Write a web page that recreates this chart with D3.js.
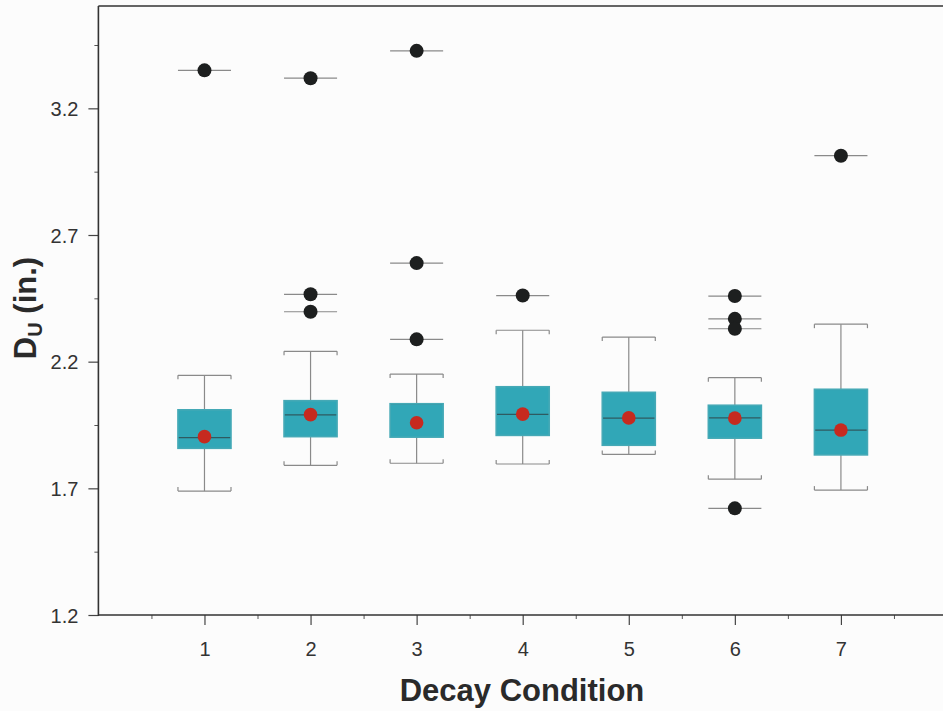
<!DOCTYPE html>
<html><head><meta charset="utf-8">
<script src="https://cdn.jsdelivr.net/npm/d3@7"></script>
<style>body{margin:0;background:#fcfcfc;}svg{display:block;font-family:"Liberation Sans",Arial,sans-serif;}</style>
</head><body><svg id="c" width="943" height="711"></svg>
<script>
const categories = [1, 2, 3, 4, 5, 6, 7];
const whiskerLow  = [1.689, 1.791, 1.799, 1.796, 1.834, 1.736, 1.693];
const q1          = [1.858, 1.904, 1.902, 1.909, 1.870, 1.898, 1.832];
const medians     = [1.900, 1.990, 2.034, 1.992, 1.977, 1.978, 1.930];
const q3          = [2.010, 2.046, 2.034, 2.101, 2.079, 2.028, 2.091];
const whiskerHigh = [2.146, 2.241, 2.151, 2.324, 2.297, 2.137, 2.348];
const means       = [1.904, 1.991, 1.959, 1.993, 1.978, 1.977, 1.930];
const outliers    = [[3.350], [3.319, 2.466, 2.397], [3.427, 2.589, 2.288], [2.461], [], [2.459, 2.369, 2.330, 1.621], [3.013]];
const yTicks = [1.2, 1.7, 2.2, 2.7, 3.2];
const yMinorTicks = [1.45, 1.95, 2.45, 2.95, 3.45];
const xMinorTicks = [0.5, 1.5, 2.5, 3.5, 4.5, 5.5, 6.5, 7.5];

const svg = d3.select("#c");
const x = d3.scaleLinear().domain([0, 8]).range([98.4, 947]);
const y = d3.scaleLinear().domain([1.2, 3.6]).range([615, 7]);
const bw = x(0.5) - x(0);

const data = categories.map((c, i) => ({c, lo: whiskerLow[i], q1: q1[i], med: medians[i], q3: q3[i], hi: whiskerHigh[i], mean: means[i], out: outliers[i]}));

const g = svg.append("g");
const wc = "#8a8a8a";
data.forEach(d => {
  const cx = x(d.c);
  g.append("line").attr("x1", cx).attr("x2", cx).attr("y1", y(d.hi)).attr("y2", y(d.lo)).attr("stroke", wc).attr("stroke-width", 1.2);
  [d.hi, d.lo].forEach(v => {
    g.append("line").attr("x1", cx - bw/2).attr("x2", cx + bw/2).attr("y1", y(v)).attr("y2", y(v)).attr("stroke", wc).attr("stroke-width", 1.2);
    const dv = v === d.hi ? 4 : -4;
    g.append("line").attr("x1", cx - bw/2).attr("x2", cx - bw/2).attr("y1", y(v)).attr("y2", y(v) + dv).attr("stroke", wc).attr("stroke-width", 1.2);
    g.append("line").attr("x1", cx + bw/2).attr("x2", cx + bw/2).attr("y1", y(v)).attr("y2", y(v) + dv).attr("stroke", wc).attr("stroke-width", 1.2);
  });
  g.append("rect").attr("x", cx - bw/2).attr("width", bw).attr("y", y(d.q3)).attr("height", y(d.q1) - y(d.q3)).attr("fill", "#31a7b7");
  g.append("line").attr("x1", cx - bw/2).attr("x2", cx + bw/2).attr("y1", y(d.med)).attr("y2", y(d.med)).attr("stroke", "#2f5a60").attr("stroke-width", 1.3);
  g.append("rect").attr("x", cx - bw/2).attr("width", bw).attr("y", y(d.q3)).attr("height", y(d.q1) - y(d.q3)).attr("fill", "none").attr("stroke", "#45a9b6").attr("stroke-width", 1.6);
  g.append("circle").attr("cx", cx).attr("cy", y(d.mean)).attr("r", 6.8).attr("fill", "#c62a1f");
  d.out.forEach(v => {
    g.append("line").attr("x1", cx - bw/2).attr("x2", cx + bw/2).attr("y1", y(v)).attr("y2", y(v)).attr("stroke", wc).attr("stroke-width", 1.2);
    g.append("circle").attr("cx", cx).attr("cy", y(v)).attr("r", 7).attr("fill", "#1d1f1f");
  });
});

const yAxis = d3.axisLeft(y).tickValues(yTicks).tickFormat(d3.format(".1f")).tickSize(10).tickPadding(10);
const ya = svg.append("g").attr("transform", `translate(${x(0)},0)`).call(yAxis);
ya.select(".domain").remove();
ya.selectAll(".tick line").attr("stroke", "#444").attr("stroke-width", 1.2);
ya.selectAll("text").attr("font-size", 20).attr("fill", "#333").attr("dy", "0.35em");
const yMinor = svg.append("g").attr("transform", `translate(${x(0)},0)`).call(d3.axisLeft(y).tickValues(yMinorTicks).tickSize(4).tickFormat(""));
yMinor.select(".domain").remove();
yMinor.selectAll(".tick line").attr("stroke", "#555");

const xAxis = d3.axisBottom(x).tickValues(categories).tickSize(10).tickPadding(17);
const xa = svg.append("g").attr("transform", `translate(0,${y(1.2)})`).call(xAxis);
xa.select(".domain").remove();
xa.selectAll(".tick line").attr("stroke", "#444").attr("stroke-width", 1.2);
xa.selectAll("text").attr("font-size", 20).attr("fill", "#333");
const xMinor = svg.append("g").attr("transform", `translate(0,${y(1.2)})`).call(d3.axisBottom(x).tickValues(xMinorTicks).tickSize(4).tickFormat(""));
xMinor.select(".domain").remove();
xMinor.selectAll(".tick line").attr("stroke", "#555");

svg.append("line").attr("x1", x(0)).attr("x2", x(0)).attr("y1", y(3.6) - 1).attr("y2", y(1.2) + 1).attr("stroke", "#333").attr("stroke-width", 1.6);
svg.append("line").attr("x1", x(0)).attr("x2", 943).attr("y1", y(1.2)).attr("y2", y(1.2)).attr("stroke", "#333").attr("stroke-width", 1.6);
svg.append("line").attr("x1", x(0)).attr("x2", 943).attr("y1", y(3.6) - 1).attr("y2", y(3.6) - 1).attr("stroke", "#333").attr("stroke-width", 1.6);

svg.append("text").attr("x", 522).attr("y", 701).attr("text-anchor", "middle").attr("font-size", 31).attr("font-weight", "bold").attr("fill", "#2a2a2a").text("Decay Condition");
const yt = svg.append("text").attr("transform", "translate(36,308) rotate(-90)").attr("text-anchor", "middle").attr("font-size", 31).attr("font-weight", "bold").attr("fill", "#2a2a2a");
yt.append("tspan").text("D");
yt.append("tspan").attr("font-size", 20).attr("dy", 6).text("U");
yt.append("tspan").attr("dy", -6).text(" (in.)");
</script></body></html>
